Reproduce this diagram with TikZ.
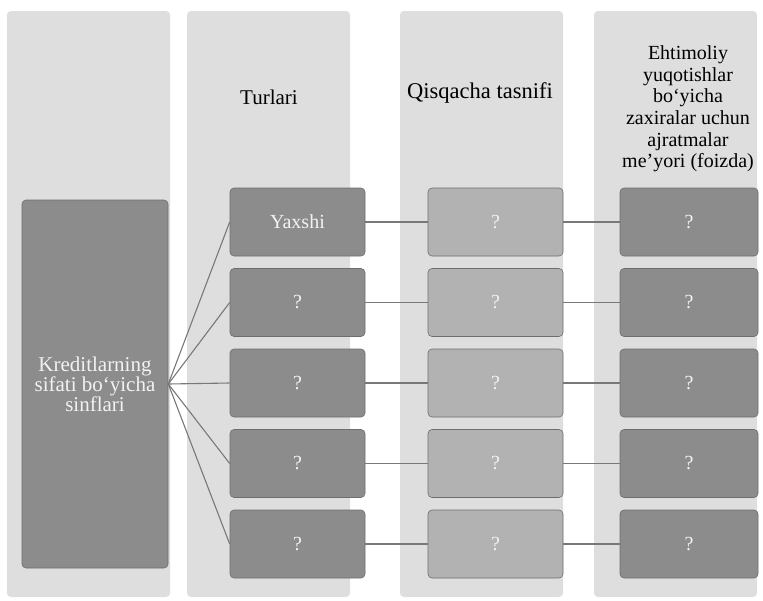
\documentclass[tikz,border=0pt]{standalone}
\usepackage{fontspec}
\setmainfont{Liberation Serif}
\usetikzlibrary{positioning}
\definecolor{kpanel}{RGB}{222,222,222}
\definecolor{kdark}{RGB}{140,140,140}
\definecolor{klight}{RGB}{178,178,178}
\definecolor{kedge}{RGB}{110,110,110}
\definecolor{kline}{RGB}{120,120,120}
\definecolor{ktext}{RGB}{242,242,242}

\begin{document}
\begin{tikzpicture}[
    x=1pt, y=-1pt,
    %% ── panel and box styles ────────────────────────────────────────────────
    panel/.style={
        rectangle, rounded corners=4pt, fill=kpanel, draw=none,
        minimum width=163pt, minimum height=586pt, inner sep=0pt
    },
    header/.style={
        align=center, text=black, inner sep=0pt
    },
    classbox/.style={
        rectangle, rounded corners=4pt, fill=kdark, draw=kedge,
        line width=0.6pt, minimum width=146pt, minimum height=368pt,
        align=center, text=ktext,
        font=\fontsize{21}{20}\selectfont
    },
    typebox/.style={
        rectangle, rounded corners=4pt, fill=#1, draw=kedge,
        line width=0.6pt, minimum width=135pt, minimum height=68pt,
        text=ktext, font=\fontsize{20}{22}\selectfont
    },
    typebox/.default=kdark,
    %% ── connector style ─────────────────────────────────────────────────────
    link/.style={
        draw=kline, line width=1.1pt
    },
]
\useasboundingbox (0,0) rectangle (763,600);

%% ── Column panels ────────────────────────────────────────────────────────────
\node[panel] (p1) at (88.5,304) {};
\node[panel] (p2) at (268.5,304) {};
\node[panel] (p3) at (481.5,304) {};
\node[panel] (p4) at (675.5,304) {};

%% ── Column headers ───────────────────────────────────────────────────────────
\node[header, font=\fontsize{21}{22}\selectfont] (h2) at (269,97) {Turlari};
\node[header, font=\fontsize{22.5}{24}\selectfont] (h3) at (480,93) {Qisqacha tasnifi};
\node[header, font=\fontsize{20}{21.6}\selectfont] (h4) at (688,109)
    {Ehtimoliy\\yuqotishlar\\bo‘yicha\\zaxiralar uchun\\ajratmalar\\me'yori (foizda)};

%% ── Left block ───────────────────────────────────────────────────────────────
\node[classbox] (cls) at (95,384) {Kreditlarning\\sifati bo‘yicha\\sinflari};

%% ── Rows: type, short description, reserve rate ─────────────────────────────
\foreach \i/\yy/\lab in {1/222/Yaxshi, 2/302.5/?, 3/383/?, 4/463.5/?, 5/544/?} {
    \node[typebox] (t\i) at (297.5,\yy) {\lab};
    \node[typebox=klight] (q\i) at (495.5,\yy) {?};
    \node[typebox, minimum width=138pt] (r\i) at (689,\yy) {?};
    %% connectors
    \draw[link] (cls.east) -- (t\i.west);
    \draw[link] (t\i.east) -- (q\i.west);
    \draw[link] (q\i.east) -- (r\i.west);
}

\end{tikzpicture}
\end{document}
